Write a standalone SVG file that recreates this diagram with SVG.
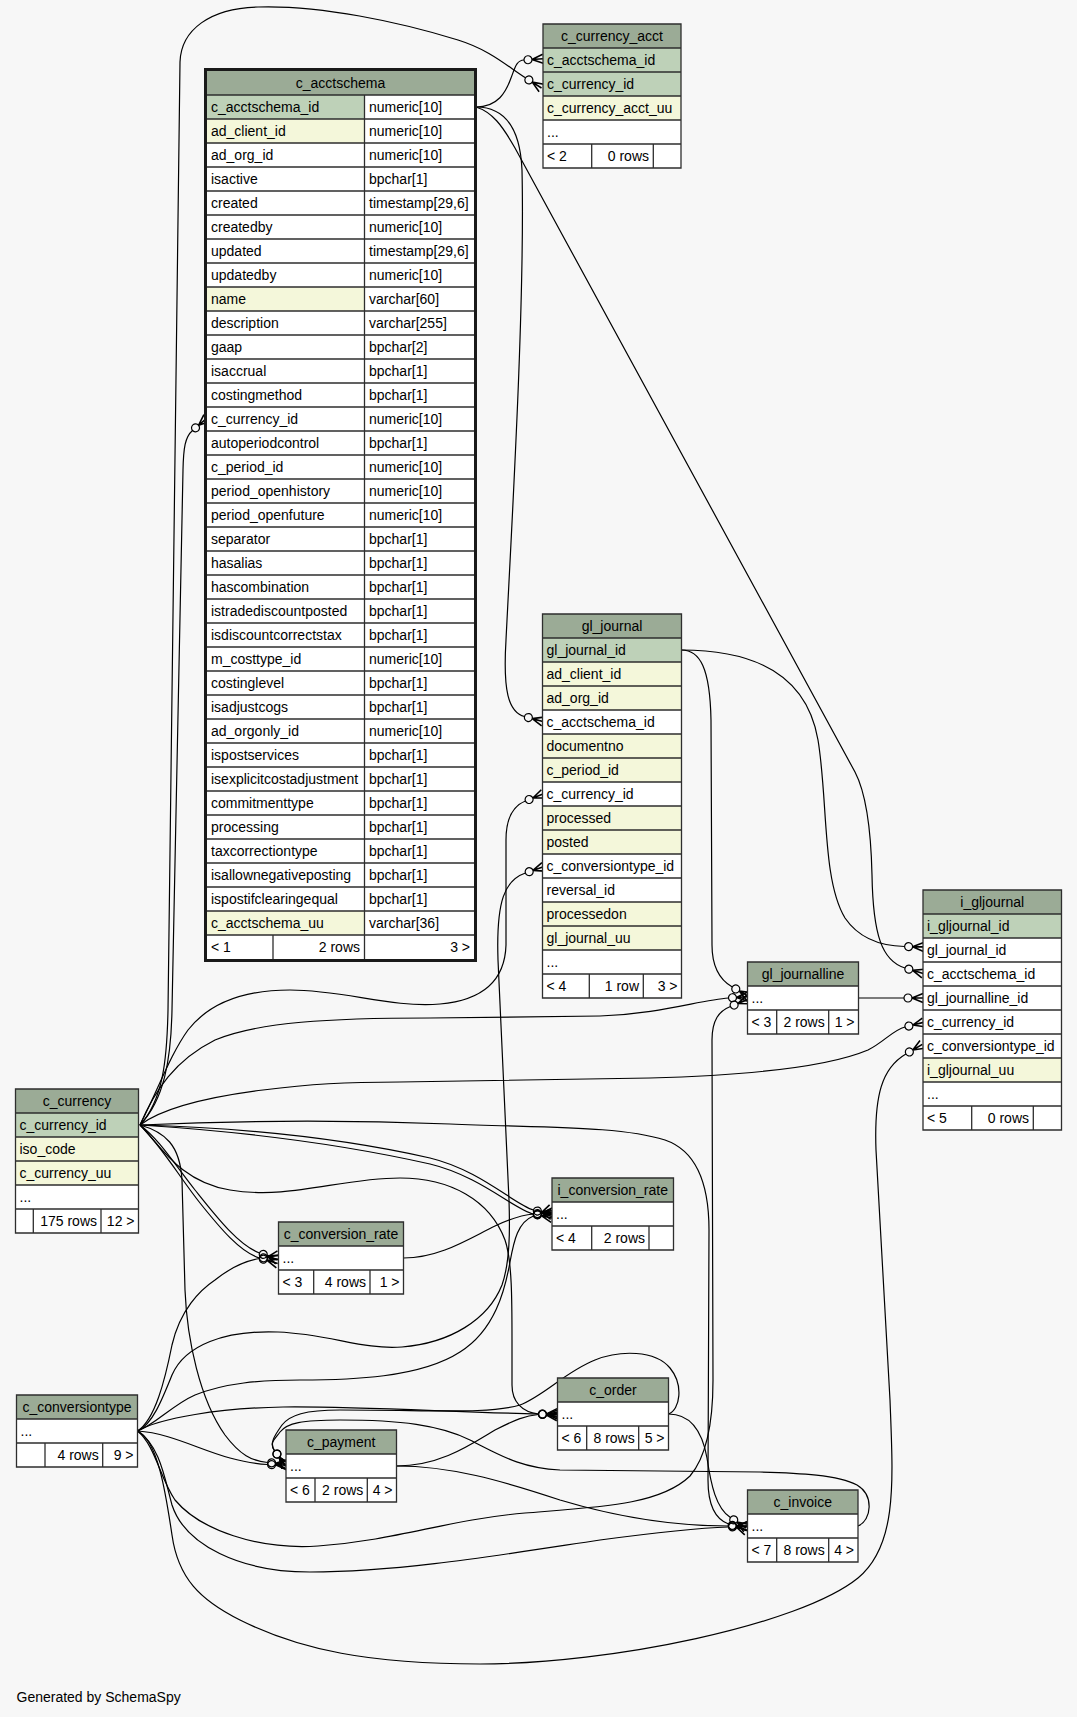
<svg xmlns="http://www.w3.org/2000/svg" width="1077" height="1717" viewBox="0 0 1077 1717">
<style>
text{font-family:"Liberation Sans",Arial,Helvetica,sans-serif;font-size:14px;fill:#000}
.m{text-anchor:middle}
.e{text-anchor:end}
.h{fill:#9bab96}
.pk{fill:#bed1b8}
.ix{fill:#f4f7da}
.w{fill:#fff}
.g{stroke:#2e2e2e;stroke-width:1.3;fill:none}
.thick{stroke:#1a1a1a;stroke-width:3;fill:none}
#connectors path{fill:none;stroke:#000;stroke-width:1.2;marker-end:url(#crow)}
#connectors path.plain{marker-end:url(#crow)}
</style>
<defs>
<marker id="crow" markerUnits="userSpaceOnUse" orient="auto" overflow="visible" markerWidth="20" markerHeight="12" refX="0" refY="0">
<circle cx="4" cy="0" r="4" fill="none" stroke="#000" stroke-width="1.2"/>
<path d="M8,0L19,-4.5M8,0L19,0M8,0L19,4.5" fill="none" stroke="#000" stroke-width="1.6"/>
</marker>
</defs>
<rect x="0" y="0" width="1077" height="1717" fill="#f7f7f7"/>

<g id="connectors">
<path d="M476,107 C498,107 506,92 511,78 C515,68 516,60.5 524,60"/>
<path d="M140,1125 C163,1100 167,1060 168,1010 L180,62 C181,30 210,8 258,7 C320,5 400,22 458,40 C490,50 507,66 525.5,77.8"/>
<path d="M140,1125 C164,1100 171,1060 172,1010 L183,470 C183.5,448 185,437 192.5,430.5"/>
<path d="M476,107 C503,107 520,125 522,170 C525,300 512,520 506,640 C503,690 508,712 524.5,716.5"/>
<path d="M476,107 C492,112 502,125 515,148 L855,772 C866,793 871,830 872,875 C873,935 882,961 905,968"/>
<path d="M140,1125 C158,1090 170,1055 188,1030 C210,1002 245,990 290,990 C345,990 390,1008 440,1004 C485,1000 505,978 506,945 L506,840 C506,818 513,806 525.4,801"/>
<path d="M137.5,1431 C152,1425 162,1400 172,1375 C185,1345 225,1330 278,1332 C330,1334 362,1350 402,1347 C450,1343 488,1320 502,1285 C510,1262 510,1230 509,1200 L498,960 C496,900 505,880 525.4,873"/>
<path d="M681.5,650 C740,650 805,665 818,740 C828,800 822,880 845,918 C860,940 882,946 904.6,946.5"/>
<path d="M681.5,650 C700,650 710,668 711,720 L712,945 C712,968 720,980 732.3,987"/>
<path d="M858.5,998 L904,998"/>
<path d="M140,1125 C160,1110 200,1098 263,1090 C310,1084 345,1082 400,1082 L650,1078 C760,1075 830,1066 868,1050 C884,1042 893,1030 905,1027"/>
<path d="M137.5,1431 C158,1440 166,1495 172,1535 C178,1578 200,1600 240,1620 C300,1650 370,1664 480,1664 C610,1664 800,1625 858,1578 C898,1545 893,1480 890,1400 L876,1150 C874,1095 882,1068 905.9,1054"/>
<path d="M140,1125 C155,1090 175,1060 215,1040 C258,1022 330,1018 430,1018 L600,1016 C660,1014 700,1000 728.5,998"/>
<path d="M137.5,1431 C155,1445 160,1478 175,1500 C200,1530 258,1550 318,1546 C400,1540 445,1520 525,1513 C600,1507 660,1505 690,1476 C708,1455 713,1420 713,1380 L712,1040 C712,1020 719,1011 730.4,1006.5"/>
<path d="M140,1125 C250,1120 350,1120 450,1124 C550,1128 620,1126 665,1140 C700,1152 709,1190 709,1230 L708,1480 C708,1505 715,1519 728.5,1524"/>
<path d="M668.5,1414 C690,1414 702,1430 707,1458 C711,1485 716,1508 730.4,1517.6"/>
<path d="M396.5,1466 C450,1466 500,1480 560,1500 C620,1518 680,1526 728.5,1526"/>
<path d="M137.5,1431 C160,1445 165,1480 172,1505 C185,1545 240,1572 310,1572 C400,1572 500,1555 600,1540 C660,1532 700,1528 728.5,1527"/>
<path d="M858,1526 C872,1520 874,1495 857,1485 C838,1475 800,1473 760,1472 L560,1470 C520,1468 500,1455 470,1440 C440,1425 400,1420 340,1420 C302,1420 287,1423 280,1432 C274,1440 269,1443 274.6,1450.8"/>
<path d="M668.5,1414 C680,1410 684,1385 670,1368 C655,1350 620,1350 595,1360 C565,1372 545,1395 520,1405 C490,1414 440,1410 340,1410 C305,1410 290,1415 282,1425 C275,1435 269,1443 274.6,1450.8"/>
<path d="M140,1125 C165,1132 180,1145 182,1180 L185,1290 C187,1340 200,1400 225,1435 C240,1455 252,1461 267.6,1462.5"/>
<path d="M137.5,1431 C170,1433 200,1450 230,1458 C245,1462 255,1464 267.6,1464.5"/>
<path d="M140,1125 C160,1145 180,1182 230,1190 C290,1200 340,1178 400,1178 C450,1178 490,1200 505,1240 C512,1260 512,1300 512,1340 L512,1385 C512,1402 522,1412 538.5,1414"/>
<path d="M137.5,1431 C160,1418 220,1408 283,1407 C350,1406 450,1412 538.5,1414"/>
<path d="M396.5,1466 C440,1466 470,1445 495,1430 C515,1420 525,1415.5 538.5,1414.5"/>
<path d="M140,1125 C250,1128 350,1140 430,1158 C480,1170 515,1205 533.5,1210"/>
<path d="M140,1125 C250,1132 350,1146 430,1164 C480,1176 515,1210 533.5,1214"/>
<path d="M403.5,1258 C440,1258 470,1238 495,1226 C512,1218 522,1215 533.5,1214"/>
<path d="M137.5,1431 C155,1425 172,1405 195,1395 C225,1383 260,1380 300,1380 C350,1380 420,1378 460,1352 C495,1330 505,1290 510,1262 C514,1240 518,1222 533.5,1216"/>
<path d="M140,1125 C160,1140 175,1165 195,1190 C215,1215 238,1245 259.5,1253"/>
<path d="M140,1125 C163,1148 180,1178 200,1203 C220,1228 240,1252 259.5,1258"/>
<path d="M137.5,1431 C155,1420 165,1380 172,1345 C180,1310 200,1290 215,1280 C230,1268 245,1261 259.5,1258.5"/>
</g>

<g id="c_acctschema">
<rect class="h" x="207" y="71" width="267" height="24"/>
<rect class="w" x="207" y="95" width="267" height="864"/>
<rect class="pk" x="207" y="95" width="157.5" height="24"/>
<rect class="ix" x="207" y="119" width="157.5" height="24"/>
<rect class="ix" x="207" y="287" width="157.5" height="24"/>
<rect class="ix" x="207" y="911" width="157.5" height="24"/>
<path class="g" d="M207,95H474M207,119H474M207,143H474M207,167H474M207,191H474M207,215H474M207,239H474M207,263H474M207,287H474M207,311H474M207,335H474M207,359H474M207,383H474M207,407H474M207,431H474M207,455H474M207,479H474M207,503H474M207,527H474M207,551H474M207,575H474M207,599H474M207,623H474M207,647H474M207,671H474M207,695H474M207,719H474M207,743H474M207,767H474M207,791H474M207,815H474M207,839H474M207,863H474M207,887H474M207,911H474M207,935H474M364.5,95V959M273,935V959"/>
<rect class="thick" x="205.5" y="69.5" width="270" height="891"/>
<text class="m" x="340.5" y="88">c_acctschema</text>
<text x="211" y="112">c_acctschema_id</text><text x="369" y="112">numeric[10]</text>
<text x="211" y="136">ad_client_id</text><text x="369" y="136">numeric[10]</text>
<text x="211" y="160">ad_org_id</text><text x="369" y="160">numeric[10]</text>
<text x="211" y="184">isactive</text><text x="369" y="184">bpchar[1]</text>
<text x="211" y="208">created</text><text x="369" y="208">timestamp[29,6]</text>
<text x="211" y="232">createdby</text><text x="369" y="232">numeric[10]</text>
<text x="211" y="256">updated</text><text x="369" y="256">timestamp[29,6]</text>
<text x="211" y="280">updatedby</text><text x="369" y="280">numeric[10]</text>
<text x="211" y="304">name</text><text x="369" y="304">varchar[60]</text>
<text x="211" y="328">description</text><text x="369" y="328">varchar[255]</text>
<text x="211" y="352">gaap</text><text x="369" y="352">bpchar[2]</text>
<text x="211" y="376">isaccrual</text><text x="369" y="376">bpchar[1]</text>
<text x="211" y="400">costingmethod</text><text x="369" y="400">bpchar[1]</text>
<text x="211" y="424">c_currency_id</text><text x="369" y="424">numeric[10]</text>
<text x="211" y="448">autoperiodcontrol</text><text x="369" y="448">bpchar[1]</text>
<text x="211" y="472">c_period_id</text><text x="369" y="472">numeric[10]</text>
<text x="211" y="496">period_openhistory</text><text x="369" y="496">numeric[10]</text>
<text x="211" y="520">period_openfuture</text><text x="369" y="520">numeric[10]</text>
<text x="211" y="544">separator</text><text x="369" y="544">bpchar[1]</text>
<text x="211" y="568">hasalias</text><text x="369" y="568">bpchar[1]</text>
<text x="211" y="592">hascombination</text><text x="369" y="592">bpchar[1]</text>
<text x="211" y="616">istradediscountposted</text><text x="369" y="616">bpchar[1]</text>
<text x="211" y="640">isdiscountcorrectstax</text><text x="369" y="640">bpchar[1]</text>
<text x="211" y="664">m_costtype_id</text><text x="369" y="664">numeric[10]</text>
<text x="211" y="688">costinglevel</text><text x="369" y="688">bpchar[1]</text>
<text x="211" y="712">isadjustcogs</text><text x="369" y="712">bpchar[1]</text>
<text x="211" y="736">ad_orgonly_id</text><text x="369" y="736">numeric[10]</text>
<text x="211" y="760">ispostservices</text><text x="369" y="760">bpchar[1]</text>
<text x="211" y="784">isexplicitcostadjustment</text><text x="369" y="784">bpchar[1]</text>
<text x="211" y="808">commitmenttype</text><text x="369" y="808">bpchar[1]</text>
<text x="211" y="832">processing</text><text x="369" y="832">bpchar[1]</text>
<text x="211" y="856">taxcorrectiontype</text><text x="369" y="856">bpchar[1]</text>
<text x="211" y="880">isallownegativeposting</text><text x="369" y="880">bpchar[1]</text>
<text x="211" y="904">ispostifclearingequal</text><text x="369" y="904">bpchar[1]</text>
<text x="211" y="928">c_acctschema_uu</text><text x="369" y="928">varchar[36]</text>
<text x="211" y="952">&lt; 1</text>
<text class="e" x="360" y="952">2 rows</text>
<text class="e" x="470" y="952">3 &gt;</text>
</g>

<g id="c_currency_acct">
<rect class="h" x="543" y="24" width="138" height="24"/>
<rect class="pk" x="543" y="48" width="138" height="48"/>
<rect class="ix" x="543" y="96" width="138" height="24"/>
<rect class="w" x="543" y="120" width="138" height="48"/>
<path class="g" d="M543,24H681V168H543ZM543,48H681M543,72H681M543,96H681M543,120H681M543,144H681M591.7,144V168M653.3,144V168"/>
<text class="m" x="612" y="41">c_currency_acct</text>
<text x="547" y="65">c_acctschema_id</text>
<text x="547" y="89">c_currency_id</text>
<text x="547" y="113">c_currency_acct_uu</text>
<text x="547" y="137">...</text>
<text x="547" y="161">&lt; 2</text>
<text class="e" x="649" y="161">0 rows</text>
</g>

<g id="gl_journal">
<rect class="h" x="542.5" y="614" width="139" height="24"/>
<rect class="pk" x="542.5" y="638" width="139" height="24"/>
<rect class="ix" x="542.5" y="662" width="139" height="48"/>
<rect class="w" x="542.5" y="710" width="139" height="24"/>
<rect class="ix" x="542.5" y="734" width="139" height="48"/>
<rect class="w" x="542.5" y="782" width="139" height="24"/>
<rect class="ix" x="542.5" y="806" width="139" height="48"/>
<rect class="w" x="542.5" y="854" width="139" height="48"/>
<rect class="ix" x="542.5" y="902" width="139" height="48"/>
<rect class="w" x="542.5" y="950" width="139" height="48"/>
<path class="g" d="M542.5,614H681.5V998H542.5ZM542.5,638H681.5M542.5,662H681.5M542.5,686H681.5M542.5,710H681.5M542.5,734H681.5M542.5,758H681.5M542.5,782H681.5M542.5,806H681.5M542.5,830H681.5M542.5,854H681.5M542.5,878H681.5M542.5,902H681.5M542.5,926H681.5M542.5,950H681.5M542.5,974H681.5M589.3,974V998M643.3,974V998"/>
<text class="m" x="612" y="631">gl_journal</text>
<text x="546.5" y="655">gl_journal_id</text>
<text x="546.5" y="679">ad_client_id</text>
<text x="546.5" y="703">ad_org_id</text>
<text x="546.5" y="727">c_acctschema_id</text>
<text x="546.5" y="751">documentno</text>
<text x="546.5" y="775">c_period_id</text>
<text x="546.5" y="799">c_currency_id</text>
<text x="546.5" y="823">processed</text>
<text x="546.5" y="847">posted</text>
<text x="546.5" y="871">c_conversiontype_id</text>
<text x="546.5" y="895">reversal_id</text>
<text x="546.5" y="919">processedon</text>
<text x="546.5" y="943">gl_journal_uu</text>
<text x="546.5" y="967">...</text>
<text x="546.5" y="991">&lt; 4</text>
<text class="e" x="639" y="991">1 row</text>
<text class="e" x="677.5" y="991">3 &gt;</text>
</g>

<g id="i_gljournal">
<rect class="h" x="923" y="890" width="138.5" height="24"/>
<rect class="pk" x="923" y="914" width="138.5" height="24"/>
<rect class="w" x="923" y="938" width="138.5" height="120"/>
<rect class="ix" x="923" y="1058" width="138.5" height="24"/>
<rect class="w" x="923" y="1082" width="138.5" height="48"/>
<path class="g" d="M923,890H1061.5V1130H923ZM923,914H1061.5M923,938H1061.5M923,962H1061.5M923,986H1061.5M923,1010H1061.5M923,1034H1061.5M923,1058H1061.5M923,1082H1061.5M923,1106H1061.5M971.7,1106V1130M1033.3,1106V1130"/>
<text class="m" x="992.25" y="907">i_gljournal</text>
<text x="927" y="931">i_gljournal_id</text>
<text x="927" y="955">gl_journal_id</text>
<text x="927" y="979">c_acctschema_id</text>
<text x="927" y="1003">gl_journalline_id</text>
<text x="927" y="1027">c_currency_id</text>
<text x="927" y="1051">c_conversiontype_id</text>
<text x="927" y="1075">i_gljournal_uu</text>
<text x="927" y="1099">...</text>
<text x="927" y="1123">&lt; 5</text>
<text class="e" x="1029" y="1123">0 rows</text>
</g>

<g id="gl_journalline">
<rect class="h" x="747.5" y="962" width="111" height="24"/>
<rect class="w" x="747.5" y="986" width="111" height="48"/>
<path class="g" d="M747.5,962H858.5V1034H747.5ZM747.5,986H858.5M747.5,1010H858.5M776.7,1010V1034M828.7,1010V1034"/>
<text class="m" x="803" y="979">gl_journalline</text>
<text x="751.5" y="1003">...</text>
<text x="751.5" y="1027">&lt; 3</text>
<text class="e" x="824.7" y="1027">2 rows</text>
<text class="e" x="854.5" y="1027">1 &gt;</text>
</g>

<g id="c_currency">
<rect class="h" x="15.5" y="1089" width="123" height="24"/>
<rect class="pk" x="15.5" y="1113" width="123" height="24"/>
<rect class="ix" x="15.5" y="1137" width="123" height="48"/>
<rect class="w" x="15.5" y="1185" width="123" height="48"/>
<path class="g" d="M15.5,1089H138.5V1233H15.5ZM15.5,1113H138.5M15.5,1137H138.5M15.5,1161H138.5M15.5,1185H138.5M15.5,1209H138.5M33.3,1209V1233M101,1209V1233"/>
<text class="m" x="77" y="1106">c_currency</text>
<text x="19.5" y="1130">c_currency_id</text>
<text x="19.5" y="1154">iso_code</text>
<text x="19.5" y="1178">c_currency_uu</text>
<text x="19.5" y="1202">...</text>
<text class="e" x="97" y="1226">175 rows</text>
<text class="e" x="134.5" y="1226">12 &gt;</text>
</g>

<g id="c_conversion_rate">
<rect class="h" x="278.5" y="1222" width="125" height="24"/>
<rect class="w" x="278.5" y="1246" width="125" height="48"/>
<path class="g" d="M278.5,1222H403.5V1294H278.5ZM278.5,1246H403.5M278.5,1270H403.5M313.7,1270V1294M370,1270V1294"/>
<text class="m" x="341" y="1239">c_conversion_rate</text>
<text x="282.5" y="1263">...</text>
<text x="282.5" y="1287">&lt; 3</text>
<text class="e" x="366" y="1287">4 rows</text>
<text class="e" x="399.5" y="1287">1 &gt;</text>
</g>

<g id="c_conversiontype">
<rect class="h" x="16.5" y="1395" width="121" height="24"/>
<rect class="w" x="16.5" y="1419" width="121" height="48"/>
<path class="g" d="M16.5,1395H137.5V1467H16.5ZM16.5,1419H137.5M16.5,1443H137.5M45,1443V1467M102.7,1443V1467"/>
<text class="m" x="77" y="1412">c_conversiontype</text>
<text x="20.5" y="1436">...</text>
<text class="e" x="98.7" y="1460">4 rows</text>
<text class="e" x="133.5" y="1460">9 &gt;</text>
</g>

<g id="c_payment">
<rect class="h" x="286" y="1430" width="110.5" height="24"/>
<rect class="w" x="286" y="1454" width="110.5" height="48"/>
<path class="g" d="M286,1430H396.5V1502H286ZM286,1454H396.5M286,1478H396.5M315,1478V1502M367.3,1478V1502"/>
<text class="m" x="341.25" y="1447">c_payment</text>
<text x="290" y="1471">...</text>
<text x="290" y="1495">&lt; 6</text>
<text class="e" x="363.3" y="1495">2 rows</text>
<text class="e" x="392.5" y="1495">4 &gt;</text>
</g>

<g id="i_conversion_rate">
<rect class="h" x="552" y="1178" width="121.5" height="24"/>
<rect class="w" x="552" y="1202" width="121.5" height="48"/>
<path class="g" d="M552,1178H673.5V1250H552ZM552,1202H673.5M552,1226H673.5M591.7,1226V1250M649,1226V1250"/>
<text class="m" x="612.75" y="1195">i_conversion_rate</text>
<text x="556" y="1219">...</text>
<text x="556" y="1243">&lt; 4</text>
<text class="e" x="645" y="1243">2 rows</text>
</g>

<g id="c_order">
<rect class="h" x="557.5" y="1378" width="111" height="24"/>
<rect class="w" x="557.5" y="1402" width="111" height="48"/>
<path class="g" d="M557.5,1378H668.5V1450H557.5ZM557.5,1402H668.5M557.5,1426H668.5M586.7,1426V1450M638.7,1426V1450"/>
<text class="m" x="613" y="1395">c_order</text>
<text x="561.5" y="1419">...</text>
<text x="561.5" y="1443">&lt; 6</text>
<text class="e" x="634.7" y="1443">8 rows</text>
<text class="e" x="664.5" y="1443">5 &gt;</text>
</g>

<g id="c_invoice">
<rect class="h" x="747.5" y="1490" width="110.5" height="24"/>
<rect class="w" x="747.5" y="1514" width="110.5" height="48"/>
<path class="g" d="M747.5,1490H858V1562H747.5ZM747.5,1514H858M747.5,1538H858M776.7,1538V1562M828.7,1538V1562"/>
<text class="m" x="802.75" y="1507">c_invoice</text>
<text x="751.5" y="1531">...</text>
<text x="751.5" y="1555">&lt; 7</text>
<text class="e" x="824.7" y="1555">8 rows</text>
<text class="e" x="854" y="1555">4 &gt;</text>
</g>

<text x="16.5" y="1701.5">Generated by SchemaSpy</text>
</svg>
